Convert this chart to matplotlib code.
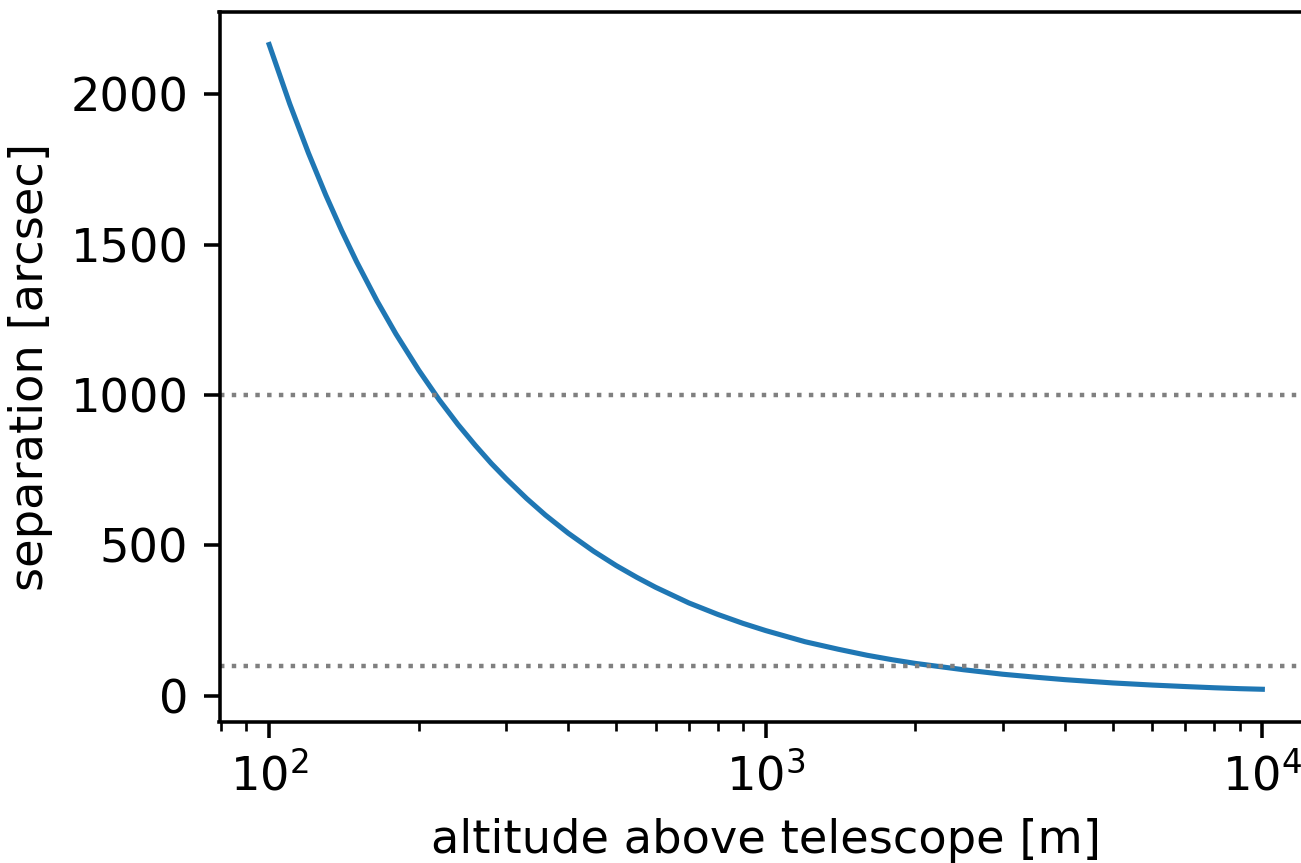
import matplotlib
matplotlib.use('Agg')
import matplotlib.pyplot as plt

# altitude above telescope [m] and separation [arcsec]
altitude = [100, 110, 120, 130, 140, 150, 165, 180, 200, 220, 240, 260, 280,
            300, 330, 360, 400, 450, 500, 550, 600, 700, 800, 900, 1000,
            1200, 1400, 1600, 1800, 2000, 2500, 3000, 3500, 4000, 5000,
            6000, 7000, 8000, 9000, 10000]
separation = [2165, 1968, 1804, 1665, 1546, 1443, 1312, 1203, 1083, 984, 902,
              833, 773, 722, 656, 601, 541, 481, 433, 394, 361, 309, 271,
              241, 217, 180, 155, 135, 120, 108, 87, 72, 62, 54, 43, 36, 31,
              27, 24, 22]
limits = [1000, 100]

plt.rcParams['font.size'] = 10.45

fig = plt.figure(figsize=(1301 / 320, 863 / 320), dpi=320)
ax = fig.add_axes([219.5 / 1301, 1 - 721.5 / 863,
                   (1312 - 219.5) / 1301, (721.5 - 12.3) / 863])

ax.plot(altitude, separation, lw=1.15)
for lim in limits:
    ax.axhline(lim, color='gray', ls=':', lw=1)
ax.set_xscale('log')
ax.set_xlabel('altitude above telescope [m]')
ax.set_ylabel('separation [arcsec]')

fig.savefig('out.png', dpi=320)
